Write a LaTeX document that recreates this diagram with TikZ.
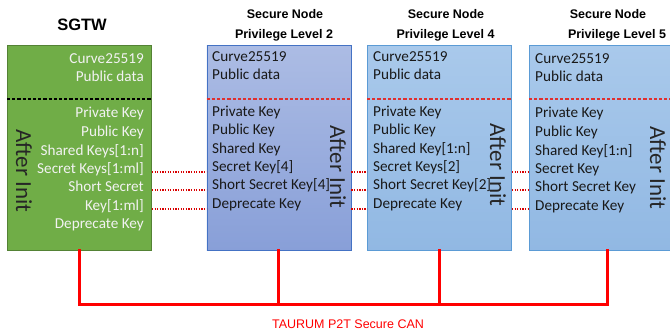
\documentclass[tikz,border=0pt]{standalone}
\usepackage{fontspec}
\setmainfont{Carlito}
\newfontfamily\arialf{Liberation Sans}
\begin{document}
\begin{tikzpicture}[x=1pt,y=-1pt,
  box/.style={draw, line width=0.9pt, minimum height=205pt, inner sep=0pt, anchor=north west},
  gbox/.style={box, fill=sgreen, draw=sgreenb},
  pbox/.style={box, draw=sblueb, top color=sbluet, bottom color=sblueb2},
  lbox/.style={box, draw=lblueb, top color=lbluet, bottom color=lblueb2},
  ttl/.style={font=\arialf\bfseries\fontsize{12.5}{14}\selectfont, inner sep=0pt},
  ktxt/.style={font=\fontsize{15.2}{17}\selectfont, inner sep=0pt, text=black!90, yshift=-2.5pt},
  wtxt/.style={ktxt, text=white!95!black},
  init/.style={font=\fontsize{23}{26}\selectfont, rotate=-90, inner sep=0pt},
  sep/.style={dashed, dash pattern=on 3.2pt off 2pt, line width=1.1pt},
  dot/.style={draw=red!85!black, line width=1.2pt, dash pattern=on 1.3pt off 1.3pt},
  bus/.style={draw=red, line width=3pt, line cap=rect}
]
\definecolor{sgreen}{HTML}{70AD47}
\definecolor{sgreenb}{HTML}{548235}
\definecolor{sbluet}{HTML}{ACBCE4}
\definecolor{sblueb2}{HTML}{889FD8}
\definecolor{sblueb}{HTML}{4472C4}
\definecolor{lbluet}{HTML}{A9C9EB}
\definecolor{lblueb2}{HTML}{91B8E3}
\definecolor{lblueb}{HTML}{5B9BD5}
\definecolor{sepred}{HTML}{E0302F}
\useasboundingbox (0,0) rectangle (670,335);
\fill[white] (0,0) rectangle (670,335);

% boxes
\node[gbox, minimum width=144pt] (b1) at (7,45) {};
\node[pbox, minimum width=144pt] (b2) at (206.5,45) {};
\node[lbox, minimum width=144pt] (b3) at (367,45) {};
\node[lbox, minimum width=156pt] (b4) at (529,45) {};

% titles
\node[ttl, font=\arialf\bfseries\fontsize{16.5}{18}\selectfont] (t1) at (82,25) {SGTW};
\node[ttl] (t2a) at (285,14) {Secure Node};
\node[ttl] (t2b) at (284,35) {Privilege Level 2};
\node[ttl] (t3a) at (446,14) {Secure Node};
\node[ttl] (t3b) at (445.5,35) {Privilege Level 4};
\node[ttl] (t4a) at (608,14) {Secure Node};
\node[ttl] (t4b) at (617,35) {Privilege Level 5};

% separators
\draw[sep, draw=black] (b1.north west |- 0,99) coordinate (s1a) -- (b1.north east |- 0,99) coordinate (s1b);
\draw[sep, draw=sepred] (b2.north west |- 0,99) coordinate (s2a) -- (b2.north east |- 0,99) coordinate (s2b);
\draw[sep, draw=sepred] (b3.north west |- 0,99) coordinate (s3a) -- (b3.north east |- 0,99) coordinate (s3b);
\draw[sep, draw=sepred] (b4.north west |- 0,99) coordinate (s4a) -- (672,99) coordinate (s4b);

% SGTW texts
\node[wtxt, anchor=mid east] (a1) at (144,59) {Curve25519};
\node[wtxt, anchor=mid east] (a2) at (144,77) {Public data};
\node[wtxt, anchor=mid east] (a3) at (144,113) {Private Key};
\node[wtxt, anchor=mid east] (a4) at (144,132) {Public Key};
\node[wtxt, anchor=mid east] (a5) at (144,151) {Shared Keys[1:n]};
\node[wtxt, anchor=mid east] (a6) at (144,169) {Secret Keys[1:ml]};
\node[wtxt, anchor=mid east] (a7) at (144,187) {Short Secret};
\node[wtxt, anchor=mid east] (a8) at (144,206) {Key[1:ml]};
\node[wtxt, anchor=mid east] (a9) at (144,224) {Deprecate Key};
\node[init, text=black!85] (i1) at (24,171) {After Init};

% Level 2 texts
\node[ktxt, anchor=mid west] (c1) at (212,57) {Curve25519};
\node[ktxt, anchor=mid west] (c2) at (212,75) {Public data};
\node[ktxt, anchor=mid west] (c3) at (212,112) {Private Key};
\node[ktxt, anchor=mid west] (c4) at (212,130) {Public Key};
\node[ktxt, anchor=mid west] (c5) at (212,149) {Shared Key};
\node[ktxt, anchor=mid west] (c6) at (212,167) {Secret Key[4]};
\node[ktxt, anchor=mid west] (c7) at (212,185) {Short Secret Key[4]};
\node[ktxt, anchor=mid west] (c8) at (212,204) {Deprecate Key};
\node[init, text=black!85] (i2) at (338,167) {After Init};

% Level 4 texts
\node[ktxt, anchor=mid west] (d1) at (373,57) {Curve25519};
\node[ktxt, anchor=mid west] (d2) at (373,75) {Public data};
\node[ktxt, anchor=mid west] (d3) at (373,112) {Private Key};
\node[ktxt, anchor=mid west] (d4) at (373,130) {Public Key};
\node[ktxt, anchor=mid west] (d5) at (373,149) {Shared Key[1:n]};
\node[ktxt, anchor=mid west] (d6) at (373,167) {Secret Keys[2]};
\node[ktxt, anchor=mid west] (d7) at (373,185) {Short Secret Key[2]};
\node[ktxt, anchor=mid west] (d8) at (373,204) {Deprecate Key};
\node[init, text=black!85] (i3) at (498,165) {After Init};

% Level 5 texts
\node[ktxt, anchor=mid west] (e1) at (535,59) {Curve25519};
\node[ktxt, anchor=mid west] (e2) at (535,77) {Public data};
\node[ktxt, anchor=mid west] (e3) at (535,113) {Private Key};
\node[ktxt, anchor=mid west] (e4) at (535,132) {Public Key};
\node[ktxt, anchor=mid west] (e5) at (535,151) {Shared Key[1:n]};
\node[ktxt, anchor=mid west] (e6) at (535,169) {Secret Key};
\node[ktxt, anchor=mid west] (e7) at (535,187) {Short Secret Key};
\node[ktxt, anchor=mid west] (e8) at (535,206) {Deprecate Key};
\node[init, text=black!85] (i4) at (658,168) {After Init};

% dotted links
\foreach \yy in {172,190,209}{
  \draw[dot] (b1.east |- 0,\yy) -- (b2.west |- 0,\yy);
  \draw[dot] (b2.east |- 0,\yy) -- (b3.west |- 0,\yy);
  \draw[dot] (b3.east |- 0,\yy) -- (b4.west |- 0,\yy);
}

% CAN bus
\coordinate (busy) at (0,304);
\draw[bus] (b1.south) -- (b1.south |- busy) -- (b4.south |- busy) -- (b4.south);
\draw[bus] (b2.south) -- (b2.south |- busy);
\draw[bus] (b3.south) -- (b3.south |- busy);
\node[font=\arialf\fontsize{12.5}{14}\selectfont, text=red, inner sep=0pt] (can) at (348,324) {TAURUM P2T Secure CAN};
\end{tikzpicture}
\end{document}
